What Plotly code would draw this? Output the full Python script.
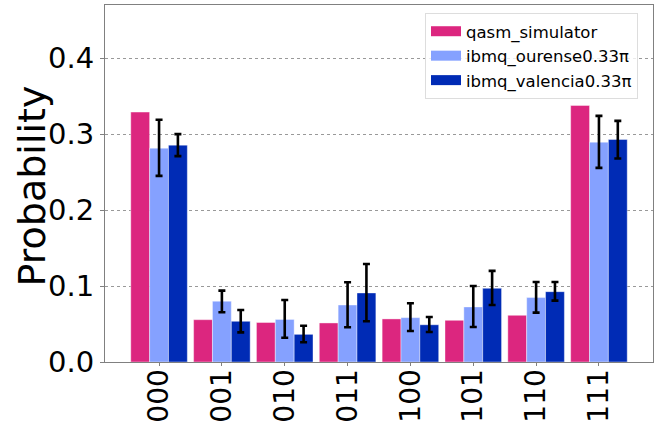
import plotly.graph_objects as go

states = ["000", "001", "010", "011", "100", "101", "110", "111"]

qasm = [0.329, 0.0557, 0.052, 0.0514, 0.0567, 0.0549, 0.0615, 0.3377]

ourense = [0.2815, 0.080, 0.056, 0.075, 0.0584, 0.0725, 0.0848, 0.2894]
ourense_up = [0.0375, 0.014, 0.0257, 0.030, 0.0189, 0.0275, 0.0206, 0.0346]
ourense_dn = [0.0365, 0.0145, 0.024, 0.0293, 0.0176, 0.0265, 0.0198, 0.0338]

valencia = [0.2855, 0.0536, 0.0364, 0.0909, 0.049, 0.097, 0.0926, 0.2929]
valencia_up = [0.0145, 0.0149, 0.0114, 0.0381, 0.0103, 0.023, 0.0128, 0.0246]
valencia_dn = [0.0145, 0.0146, 0.0104, 0.0373, 0.0095, 0.022, 0.0118, 0.0249]

names = ["qasm_simulator", "ibmq_ourense0.33π", "ibmq_valencia0.33π"]
colors = ["#DC267F", "#85A1FF", "#002BB5"]
y_label = "Probability"

FONT = "DejaVu Sans, sans-serif"

fig = go.Figure()

edge = dict(color="rgba(255,255,255,0.5)", width=0.8)
fig.add_trace(go.Bar(x=states, y=qasm, name=names[0], marker=dict(color=colors[0], line=edge),
                     showlegend=False))
fig.add_trace(go.Bar(x=states, y=ourense, name=names[1], marker=dict(color=colors[1], line=edge),
                     error_y=dict(type="data", symmetric=False, array=ourense_up, arrayminus=ourense_dn,
                                  color="black", thickness=2.6, width=3.5),
                     showlegend=False))
fig.add_trace(go.Bar(x=states, y=valencia, name=names[2], marker=dict(color=colors[2], line=edge),
                     error_y=dict(type="data", symmetric=False, array=valencia_up, arrayminus=valencia_dn,
                                  color="black", thickness=2.6, width=3.5),
                     showlegend=False))

# legend entries (wide patches like the original)
for n, c in zip(names, colors):
    fig.add_trace(go.Scatter(x=[None], y=[None], mode="lines", name=n,
                             line=dict(color=c, width=10), showlegend=True))

fig.update_layout(
    width=668, height=433,
    margin=dict(l=105, r=15, t=5, b=71),
    plot_bgcolor="white", paper_bgcolor="white",
    barmode="group", bargap=0.1, bargroupgap=0,
    font=dict(family=FONT, color="black"),
    legend=dict(x=0.9726, y=0.9776, xanchor="right", yanchor="top",
                bgcolor="rgba(255,255,255,0.8)", bordercolor="#DDDDDD", borderwidth=1,
                font=dict(size=16.5, family=FONT), itemwidth=30, tracegroupgap=0,
                traceorder="normal"),
    xaxis=dict(type="category", range=[-0.86, 7.86], tickangle=-90, automargin=False,
               tickfont=dict(size=28, family=FONT), ticks="outside", ticklen=3,
               ticklabelstandoff=-8,
               tickcolor="#808080", showline=True, linecolor="#808080", linewidth=1,
               mirror=True, showgrid=False, layer="above traces"),
    yaxis=dict(range=[0, 0.47], tickvals=[0, 0.1, 0.2, 0.3, 0.4], tickformat=".1f", automargin=False,
               tickfont=dict(size=29, family=FONT), ticks="outside", ticklen=4,
               tickcolor="#808080", showline=True, linecolor="#808080", linewidth=1,
               mirror=True, showgrid=True, gridcolor="#999999", griddash="dot", gridwidth=0.6,
               zeroline=False, layer="above traces"),
    annotations=[dict(text=y_label, textangle=-90, xref="paper", yref="paper",
                      x=-0.1330, y=0.492, xanchor="center", yanchor="middle", showarrow=False,
                      font=dict(size=38, family=FONT, color="black"))],
)

fig.write_html("out.html", config={"displayModeBar": False},
               post_script="document.body.style.margin='0';document.body.style.overflow='hidden';")
